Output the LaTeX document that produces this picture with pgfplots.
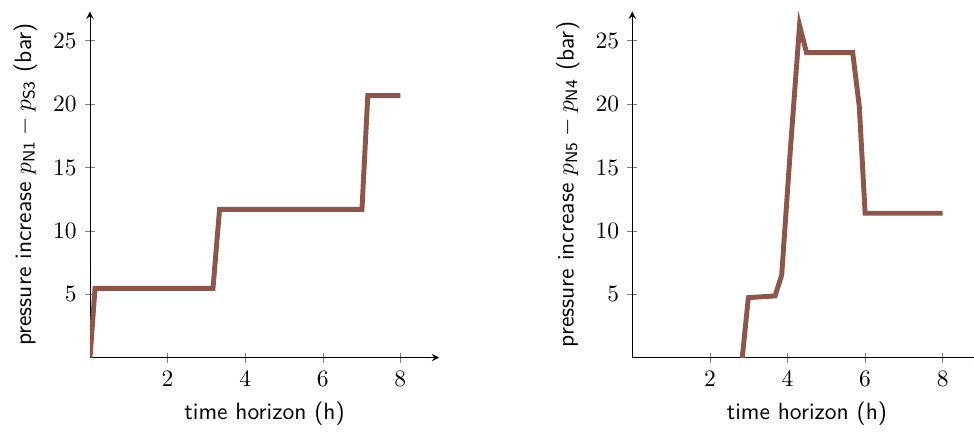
\documentclass[border=0pt]{standalone}
\usepackage{pgfplots}
\pgfplotsset{compat=1.18}
\definecolor{curve}{HTML}{8C564B}

\pgfplotsset{
  pressureaxis/.style={
    scale only axis,
    width=148.6pt, height=147.3pt,
    axis lines=left,
    xmin=0, xmax=9, ymin=0, ymax=27.3,
    xtick={2,4,6,8}, ytick={5,10,15,20,25},
    tick align=center,
    xlabel={\sffamily time horizon (h)},
  },
}

\begin{document}
\begin{tikzpicture}
\begin{axis}[pressureaxis, at={(0pt,0pt)},
  ylabel={\sffamily pressure increase $p_{\mathsf{N1}} - p_{\mathsf{S3}}$ (bar)}]
\addplot[curve, line width=2.1pt] coordinates {
  (0,0) (0.13,5.47) (3.17,5.47) (3.34,11.7) (7.01,11.7) (7.16,20.66) (8,20.66)
};
\end{axis}
\begin{axis}[pressureaxis, at={(230.8pt,0pt)},
  ylabel={\sffamily pressure increase $p_{\mathsf{N5}} - p_{\mathsf{N4}}$ (bar)}]
\addplot[curve, line width=2.1pt] coordinates {
  (2.70,-4) (2.99,4.73) (3.68,4.87) (3.85,6.52) (4.06,15.85) (4.31,26.2)
  (4.49,24.05) (5.68,24.05) (5.85,19.8) (6.0,11.39) (8,11.39)
};
\end{axis}
\pgfresetboundingbox
\useasboundingbox (-38.3pt,-31.6pt) rectangle (376.2pt,152.2pt);
\end{tikzpicture}
\end{document}
